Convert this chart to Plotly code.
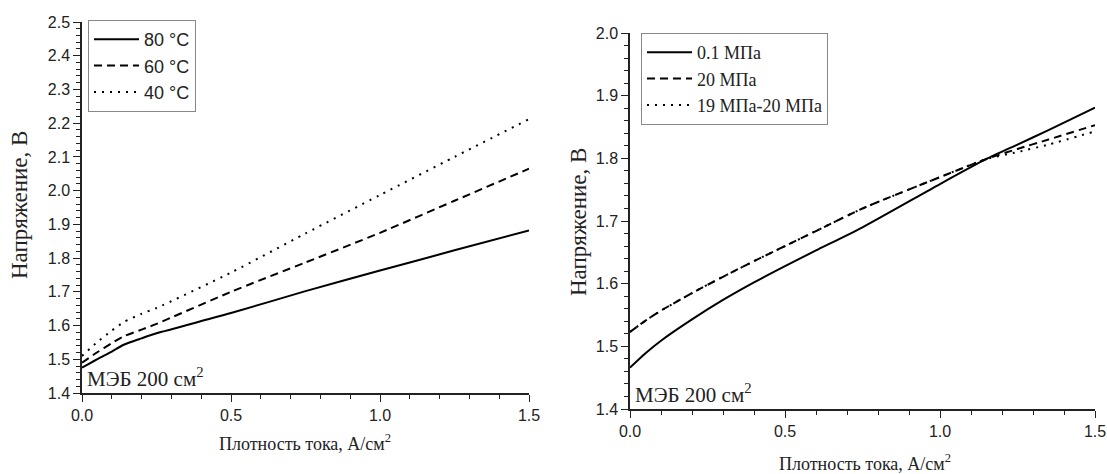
import plotly.graph_objects as go

# ---- data: left panel (temperature) ----
j_left = [0, 0.05, 0.1, 0.14, 0.2, 0.25, 0.5, 0.75, 1.0, 1.25, 1.5]
u_80 = [1.475, 1.50, 1.523, 1.543, 1.562, 1.577, 1.637, 1.702, 1.763, 1.823, 1.882]
u_60 = [1.49, 1.52, 1.548, 1.568, 1.588, 1.605, 1.70, 1.787, 1.875, 1.970, 2.065]
u_40 = [1.51, 1.55, 1.585, 1.61, 1.635, 1.652, 1.757, 1.873, 1.987, 2.10, 2.212]
left_names = ["80 °C", "60 °C", "40 °C"]

# ---- data: right panel (pressure) ----
j_right = [0, 0.05, 0.1, 0.2, 0.3, 0.4, 0.5, 0.6, 0.75, 1.0, 1.15, 1.25, 1.35, 1.5]
u_01 = [1.466, 1.489, 1.509, 1.543, 1.574, 1.602, 1.628, 1.653, 1.69, 1.759, 1.799, 1.822, 1.845, 1.881]
u_20 = [1.523, 1.541, 1.557, 1.585, 1.611, 1.636, 1.66, 1.684, 1.72, 1.77, 1.799, 1.815, 1.83, 1.853]
u_1920 = [1.523, 1.541, 1.557, 1.585, 1.611, 1.636, 1.66, 1.684, 1.72, 1.77, 1.799, 1.81, 1.822, 1.843]
right_names = ["0.1 МПа", "20 МПа", "19 МПа-20 МПа"]

x_title = "Плотность тока, А/см<sup>2</sup>"
y_title = "Напряжение, В"
note = "МЭБ 200 см<sup>2</sup>"

SANS = "Liberation Sans, Arial, sans-serif"
SERIF = "Liberation Serif, Times New Roman, serif"
dashes = ["solid", "8px,5px", "2px,6px"]

fig = go.Figure()
for name, ys, d in zip(left_names, [u_80, u_60, u_40], dashes):
    fig.add_trace(go.Scatter(x=j_left, y=ys, name=name, mode="lines",
                             line=dict(color="black", width=2, dash=d, shape="spline", smoothing=0.6),
                             xaxis="x", yaxis="y", legend="legend"))
for name, ys, d in zip(right_names, [u_01, u_20, u_1920], dashes):
    fig.add_trace(go.Scatter(x=j_right, y=ys, name=name, mode="lines",
                             line=dict(color="black", width=2, dash=d, shape="spline", smoothing=0.6),
                             xaxis="x2", yaxis="y2", legend="legend2"))

axis_common = dict(showgrid=False, zeroline=False, showline=True, linecolor="#222", linewidth=1.5,
                   ticks="outside", ticklen=7, tickwidth=1.3, tickcolor="#222",
                   tickfont=dict(family=SANS, size=16, color="#222"), automargin=False,
                   tickformat=".1f",
                   minor=dict(ticks="outside", ticklen=4, tickwidth=1.1, tickcolor="#222", showgrid=False))

fig.update_layout(
    width=1107, height=474, margin=dict(l=0, r=0, t=0, b=0),
    paper_bgcolor="white", plot_bgcolor="white",
    xaxis=dict(domain=[82/1107, 529/1107], range=[0, 1.5], dtick=0.5, anchor="y", **axis_common),
    yaxis=dict(domain=[1-393/474, 1-22/474], range=[1.4, 2.5], dtick=0.1, anchor="x", **axis_common),
    xaxis2=dict(domain=[630/1107, 1095/1107], range=[0, 1.5], dtick=0.5, anchor="y2", **axis_common),
    yaxis2=dict(domain=[1-409/474, 1-33/474], range=[1.4, 2.0], dtick=0.1, anchor="x2", **axis_common),
    legend=dict(x=88/1107, y=1-20/474, xanchor="left", yanchor="top",
                bordercolor="#888", borderwidth=1, bgcolor="white",
                font=dict(family=SANS, size=18, color="#222"), tracegroupgap=0, itemwidth=45),
    legend2=dict(x=641/1107, y=1-33/474, xanchor="left", yanchor="top",
                 bordercolor="#888", borderwidth=1, bgcolor="white",
                 font=dict(family=SERIF, size=18, color="#222"), tracegroupgap=0, itemwidth=45),
    annotations=[
        dict(text=x_title, x=305/1107, y=1-442/474, xref="paper", yref="paper", showarrow=False,
             xanchor="center", yanchor="middle", font=dict(family=SERIF, size=18, color="#222")),
        dict(text=x_title, x=865/1107, y=1-462/474, xref="paper", yref="paper", showarrow=False,
             xanchor="center", yanchor="middle", font=dict(family=SERIF, size=18, color="#222")),
        dict(text=y_title, x=20/1107, y=1-205/474, xref="paper", yref="paper", showarrow=False,
             xanchor="center", yanchor="middle",
             textangle=-90, font=dict(family=SERIF, size=23, color="#222")),
        dict(text=y_title, x=578/1107, y=1-222/474, xref="paper", yref="paper", showarrow=False,
             xanchor="center", yanchor="middle",
             textangle=-90, font=dict(family=SERIF, size=23, color="#222")),
        dict(text=note, x=0.01, y=1.4, xref="x", yref="y", xanchor="left", yanchor="bottom",
             showarrow=False, font=dict(family=SERIF, size=21, color="#222")),
        dict(text=note, x=0.01, y=1.4, xref="x2", yref="y2", xanchor="left", yanchor="bottom",
             showarrow=False, font=dict(family=SERIF, size=21, color="#222")),
    ],
)

fig.write_html("out.html")
